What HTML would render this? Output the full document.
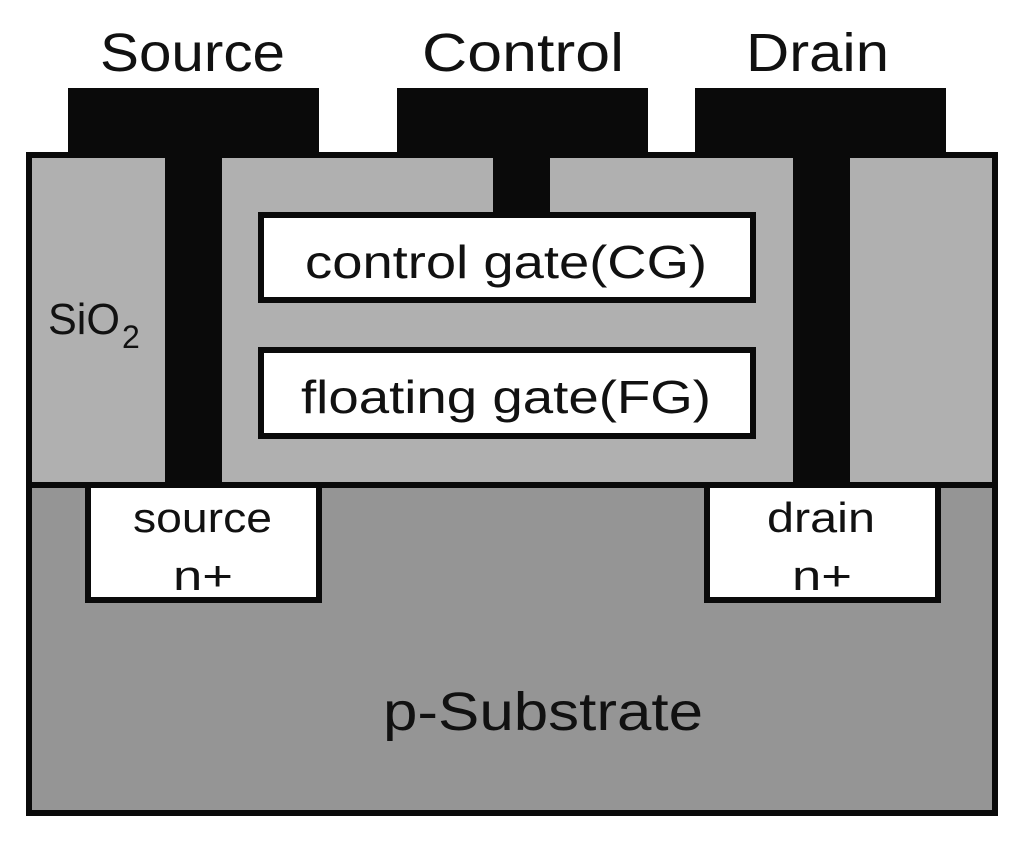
<!DOCTYPE html>
<html><head><style>
body{margin:0;background:#fff;}
svg text{font-family:"Liberation Sans","DejaVu Sans",sans-serif;fill:#111;}
</style></head><body>
<svg width="1024" height="842" viewBox="0 0 1024 842" xmlns="http://www.w3.org/2000/svg">
<rect width="1024" height="842" fill="#fff"/>
<rect x="68" y="88" width="251" height="68" fill="#0a0a0a"/>
<rect x="397" y="88" width="251" height="68" fill="#0a0a0a"/>
<rect x="695" y="88" width="251" height="68" fill="#0a0a0a"/>
<rect x="29" y="155" width="966" height="330" fill="#b0b0b0" stroke="#0a0a0a" stroke-width="6"/>
<rect x="29" y="485" width="966" height="328" fill="#959595" stroke="#0a0a0a" stroke-width="6"/>
<rect x="165" y="155" width="57" height="332" fill="#0a0a0a"/>
<rect x="793" y="155" width="57" height="332" fill="#0a0a0a"/>
<rect x="493" y="155" width="57" height="60" fill="#0a0a0a"/>
<rect x="261" y="215" width="492" height="85" fill="#fff" stroke="#0a0a0a" stroke-width="6"/>
<rect x="261" y="350" width="492" height="86" fill="#fff" stroke="#0a0a0a" stroke-width="6"/>
<rect x="88" y="485" width="231" height="115" fill="#fff" stroke="#0a0a0a" stroke-width="6"/>
<rect x="707" y="485" width="231" height="115" fill="#fff" stroke="#0a0a0a" stroke-width="6"/>
<text x="100" y="71" font-size="54" textLength="185" lengthAdjust="spacingAndGlyphs">Source</text>
<text x="422" y="71" font-size="54" textLength="202" lengthAdjust="spacingAndGlyphs">Control</text>
<text x="746" y="71" font-size="54" textLength="143" lengthAdjust="spacingAndGlyphs">Drain</text>
<text x="305" y="278" font-size="46" textLength="402" lengthAdjust="spacingAndGlyphs">control gate(CG)</text>
<text x="301" y="413" font-size="46" textLength="410" lengthAdjust="spacingAndGlyphs">floating gate(FG)</text>
<text x="48" y="334" font-size="44" textLength="72" lengthAdjust="spacingAndGlyphs">SiO</text>
<text x="122" y="348" font-size="32">2</text>
<text x="133" y="532" font-size="42" textLength="139" lengthAdjust="spacingAndGlyphs">source</text>
<text x="173" y="590" font-size="42" textLength="60" lengthAdjust="spacingAndGlyphs">n+</text>
<text x="767" y="532" font-size="42" textLength="108" lengthAdjust="spacingAndGlyphs">drain</text>
<text x="792" y="590" font-size="42" textLength="60" lengthAdjust="spacingAndGlyphs">n+</text>
<text x="383" y="730" font-size="54" textLength="320" lengthAdjust="spacingAndGlyphs">p-Substrate</text>
</svg>
</body></html>
